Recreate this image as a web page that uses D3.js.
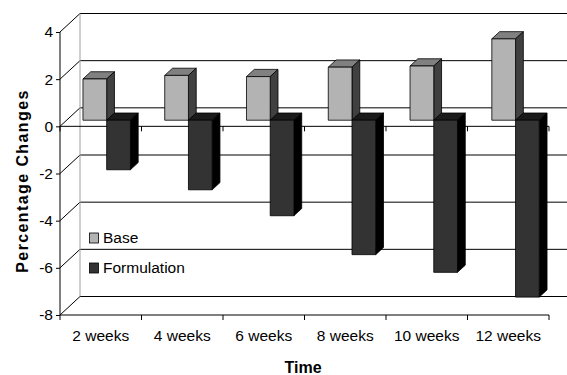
<!DOCTYPE html>
<html>
<head>
<meta charset="utf-8">
<script src="https://cdn.jsdelivr.net/npm/d3@7"></script>
<style>
  body { margin: 0; background: #fff; }
  text { font-family: "Liberation Sans", Arial, sans-serif; fill: #000; }
</style>
</head>
<body>
<div id="chart"></div>
<script>
// data
const weeks = ["2 weeks", "4 weeks", "6 weeks", "8 weeks", "10 weeks", "12 weeks"];
const seriesNames = ["Base", "Formulation"];
const baseValues = [1.75, 1.9, 1.85, 2.25, 2.3, 3.45];
const formulationValues = [-2.1, -2.95, -4.05, -5.7, -6.45, -7.5];
const yTicks = [-8, -6, -4, -2, 0, 2, 4];

const width = 567, height = 375;

// colours for each series: front, top, side
const faces = {
    Base: { front: "#b3b3b3", top: "#808080", side: "#404040" },
    Formulation: { front: "#333333", top: "#1a1a1a", side: "#000000" }
};

const svg = d3.select("#chart").append("svg")
    .attr("width", width)
    .attr("height", height);

// front plane of the 3d box
const plotLeft = 60, plotRight = 549;
const depthX = 20, depthY = -18.5;      // full depth of the box
const barFront = 0.33, barBack = 0.72;  // bars sit between these depth fractions

const y = d3.scaleLinear().domain([-8, 4]).range([315, 32]);

const x = d3.scaleBand()
    .domain(weeks)
    .range([plotLeft, plotRight])
    .paddingInner(0.42)
    .paddingOuter(0.2);

const xSeries = d3.scaleBand()
    .domain(seriesNames)
    .range([0, x.bandwidth()]);

const xEdges = d3.scalePoint().domain(d3.range(weeks.length + 1)).range([plotLeft, plotRight]);

// back wall gridlines
const walls = svg.append("g");
walls.selectAll(".grid")
    .data(yTicks)
    .enter()
    .append("line")
    .attr("x1", plotLeft + depthX)
    .attr("x2", width + 5)
    .attr("y1", d => y(d) + depthY)
    .attr("y2", d => y(d) + depthY)
    .attr("stroke", "#000")
    .attr("stroke-width", 1);

// side wall diagonals
walls.selectAll(".diag")
    .data(yTicks)
    .enter()
    .append("line")
    .attr("x1", plotLeft)
    .attr("x2", plotLeft + depthX)
    .attr("y1", d => y(d))
    .attr("y2", d => y(d) + depthY)
    .attr("stroke", "#000")
    .attr("stroke-width", 1);

walls.append("line")
    .attr("x1", plotLeft + depthX).attr("x2", plotLeft + depthX)
    .attr("y1", y(4) + depthY).attr("y2", y(-8) + depthY)
    .attr("stroke", "#a0a0a0");

// category axis at zero and at the floor
[0, -8].forEach(v => {
    const g = svg.append("g").attr("transform", `translate(0, ${y(v)})`);
    g.append("line")
        .attr("x1", plotLeft).attr("x2", plotRight)
        .attr("stroke", "#000");
    g.selectAll("line.tick")
        .data(xEdges.domain())
        .enter()
        .append("line")
        .attr("class", "tick")
        .attr("x1", d => xEdges(d)).attr("x2", d => xEdges(d))
        .attr("y1", 0).attr("y2", 5)
        .attr("stroke", "#000");
});

// value axis
const yAxis = svg.append("g")
    .attr("transform", `translate(${plotLeft}, 0)`)
    .call(d3.axisLeft(y).tickValues(yTicks).tickSize(4).tickPadding(3).tickFormat(d => String(d)));
yAxis.select(".domain").attr("stroke", "#000").attr("d", `M0,${y(4)}V${y(-8)}`);
yAxis.selectAll(".tick line").attr("stroke", "#000");
yAxis.selectAll("text")
    .style("font-family", "'Liberation Sans', Arial, sans-serif")
    .style("font-size", "15.5px")
    .attr("fill", "#000");

// 3d bars
const bars = [];
weeks.forEach((w, i) => {
    bars.push({ week: w, series: "Base", value: baseValues[i] });
    bars.push({ week: w, series: "Formulation", value: formulationValues[i] });
});

const fx = depthX * barFront, fy = depthY * barFront;
const dx = depthX * (barBack - barFront), dy = depthY * (barBack - barFront);

const barG = svg.selectAll(".bar")
    .data(bars)
    .enter()
    .append("g")
    .attr("class", "bar")
    .attr("stroke", "#000")
    .attr("stroke-width", 0.8)
    .attr("stroke-linejoin", "round");

barG.each(function(d) {
    const g = d3.select(this);
    const x0 = x(d.week) + xSeries(d.series) + fx;
    const x1 = x0 + xSeries.bandwidth();
    const yTop = y(Math.max(d.value, 0)) + fy;
    const yBot = y(Math.min(d.value, 0)) + fy;
    const c = faces[d.series];
    g.append("polygon")
        .attr("points", [[x0, yTop], [x1, yTop], [x1 + dx, yTop + dy], [x0 + dx, yTop + dy]].join(" "))
        .attr("fill", c.top);
    g.append("polygon")
        .attr("points", [[x1, yTop], [x1 + dx, yTop + dy], [x1 + dx, yBot + dy], [x1, yBot]].join(" "))
        .attr("fill", c.side);
    g.append("rect")
        .attr("x", x0).attr("y", yTop)
        .attr("width", x1 - x0).attr("height", yBot - yTop)
        .attr("fill", c.front);
});

// category labels
svg.selectAll(".xlabel")
    .data(weeks)
    .enter()
    .append("text")
    .attr("x", (d, i) => (xEdges(i) + xEdges(i + 1)) / 2)
    .attr("y", 341)
    .attr("text-anchor", "middle")
    .style("font-size", "15.5px")
    .text(d => d);

// axis titles
svg.append("text")
    .attr("x", 303).attr("y", 373)
    .attr("text-anchor", "middle")
    .style("font-size", "16px")
    .style("font-weight", "bold")
    .text("Time");

svg.append("text")
    .attr("transform", "translate(28, 181) rotate(-90)")
    .attr("text-anchor", "middle")
    .style("font-size", "16px")
    .style("font-weight", "bold")
    .style("letter-spacing", "1.4px")
    .text("Percentage Changes");

// legend
const legend = svg.selectAll(".legend")
    .data(seriesNames)
    .enter()
    .append("g")
    .attr("transform", (d, i) => `translate(89.5, ${233 + i * 30})`);

legend.append("rect")
    .attr("width", 9).attr("height", 10)
    .attr("fill", d => faces[d].front)
    .attr("stroke", "#000")
    .attr("stroke-width", 0.8);

legend.append("text")
    .attr("x", 13.5).attr("y", 10)
    .style("font-size", "15.5px")
    .text(d => d);
</script>
</body>
</html>
